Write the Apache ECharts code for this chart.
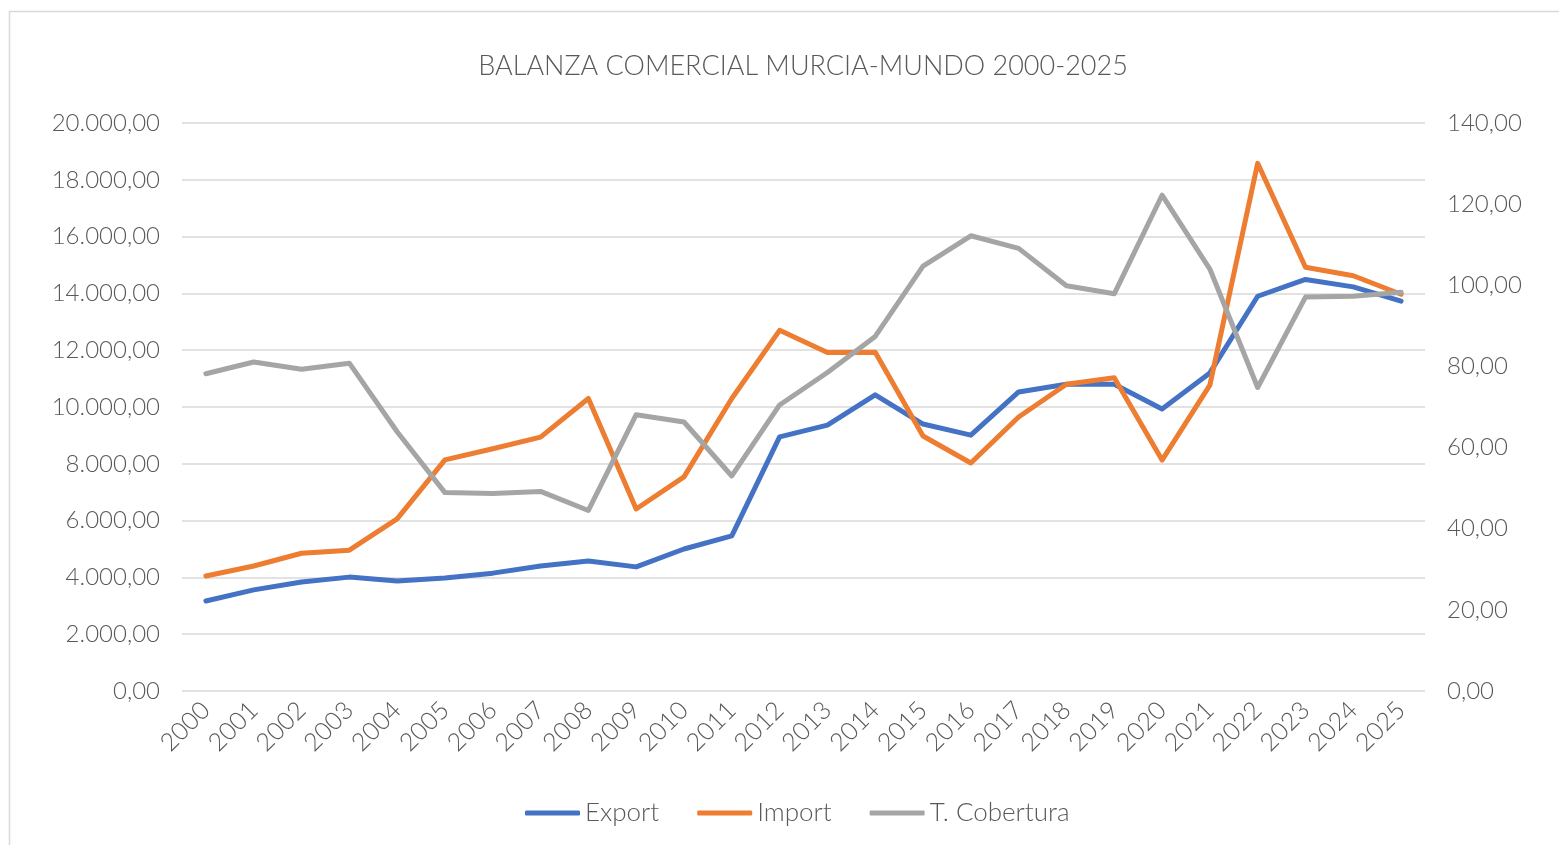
<!DOCTYPE html>
<html>
<head>
<meta charset="utf-8">
<title>Balanza comercial Murcia-Mundo</title>
<script src="https://cdn.jsdelivr.net/npm/echarts@6/dist/echarts.min.js"></script>
<style>
  html, body { margin: 0; padding: 0; background: #fff; }
  #chart { width: 1559px; height: 845px; }
</style>
</head>
<body>
<div id="chart"></div>
<script>
// años del eje X
const years = ['2000', '2001', '2002', '2003', '2004', '2005', '2006', '2007', '2008', '2009',
  '2010', '2011', '2012', '2013', '2014', '2015', '2016', '2017', '2018', '2019',
  '2020', '2021', '2022', '2023', '2024', '2025'];

// valores
const exportVals = [3170, 3560, 3840, 4010, 3870, 3980, 4150, 4400, 4580, 4370,
  5000, 5460, 8950, 9360, 10430, 9400, 9010, 10530, 10800, 10800,
  9930, 11200, 13900, 14490, 14230, 13730];

const importVals = [4050, 4400, 4850, 4960, 6060, 8140, 8530, 8940, 10300, 6410,
  7540, 10300, 12700, 11920, 11930, 8980, 8030, 9650, 10800, 11030,
  8130, 10770, 18580, 14920, 14620, 13970];

const coberturaVals = [78.2, 81.1, 79.3, 80.8, 63.9, 48.9, 48.7, 49.2, 44.5, 68.1,
  66.3, 53.0, 70.5, 78.5, 87.4, 104.7, 112.2, 109.1, 99.9, 97.9,
  122.2, 104.0, 74.8, 97.1, 97.3, 98.3];

const leftTicks = { min: 0, max: 20000, interval: 2000 };
const rightTicks = { min: 0, max: 140, interval: 20 };

const FONT = 'Lato';
const WEIGHT = 300;
const GREY_TEXT = '#595959';

// formato español: miles con punto, decimales con coma
function fmtEs(v) {
  const parts = Number(v).toFixed(2).split('.');
  parts[0] = parts[0].replace(/\B(?=(\d{3})+(?!\d))/g, '.');
  return parts[0] + ',' + parts[1];
}

const chart = echarts.init(document.getElementById('chart'));

chart.setOption({
  animation: false,
  backgroundColor: '#fff',
  textStyle: { fontFamily: FONT },
  graphic: [{
    type: 'rect',
    shape: { x: 9.5, y: 11.5, width: 1600, height: 900 },
    style: { fill: 'none', stroke: '#d9d9d9', lineWidth: 1.5 },
    silent: true
  }],
  title: {
    text: 'BALANZA COMERCIAL MURCIA-MUNDO 2000-2025',
    left: 798,
    textAlign: 'center',
    top: 48,
    textStyle: { fontFamily: FONT, fontWeight: WEIGHT, fontSize: 27, color: GREY_TEXT }
  },
  legend: {
    bottom: 14,
    left: 520,
    itemWidth: 55,
    itemHeight: 5,
    itemGap: 38,
    icon: 'roundRect',
    textStyle: { fontFamily: FONT, fontWeight: WEIGHT, fontSize: 26, color: GREY_TEXT },
    data: ['Export', 'Import', 'T. Cobertura']
  },
  grid: { left: 182, right: 134, top: 123, bottom: 154 },
  xAxis: {
    type: 'category',
    data: years,
    boundaryGap: true,
    axisLine: { show: false },
    axisTick: { show: false },
    axisLabel: { rotate: 45, fontFamily: FONT, fontWeight: WEIGHT, fontSize: 25, color: GREY_TEXT, margin: 15, interval: 0 }
  },
  yAxis: [{
    type: 'value',
    min: leftTicks.min,
    max: leftTicks.max,
    interval: leftTicks.interval,
    axisLine: { show: false },
    axisTick: { show: false },
    splitLine: { lineStyle: { color: '#d9d9d9', width: 1.5 } },
    axisLabel: { formatter: fmtEs, fontFamily: FONT, fontWeight: WEIGHT, fontSize: 24, color: GREY_TEXT, margin: 22 }
  }, {
    type: 'value',
    min: rightTicks.min,
    max: rightTicks.max,
    interval: rightTicks.interval,
    axisLine: { show: false },
    axisTick: { show: false },
    splitLine: { show: false },
    axisLabel: { formatter: fmtEs, fontFamily: FONT, fontWeight: WEIGHT, fontSize: 24, color: GREY_TEXT, margin: 22 }
  }],
  series: [{
    name: 'Export',
    type: 'line',
    data: exportVals,
    yAxisIndex: 0,
    symbol: 'none',
    lineStyle: { width: 5, color: '#4472c4', cap: 'round', join: 'round' },
    itemStyle: { color: '#4472c4' }
  }, {
    name: 'Import',
    type: 'line',
    data: importVals,
    yAxisIndex: 0,
    symbol: 'none',
    lineStyle: { width: 5, color: '#ed7d31', cap: 'round', join: 'round' },
    itemStyle: { color: '#ed7d31' }
  }, {
    name: 'T. Cobertura',
    type: 'line',
    data: coberturaVals,
    yAxisIndex: 1,
    symbol: 'none',
    lineStyle: { width: 5, color: '#a5a5a5', cap: 'round', join: 'round' },
    itemStyle: { color: '#a5a5a5' }
  }]
});
</script>
</body>
</html>
